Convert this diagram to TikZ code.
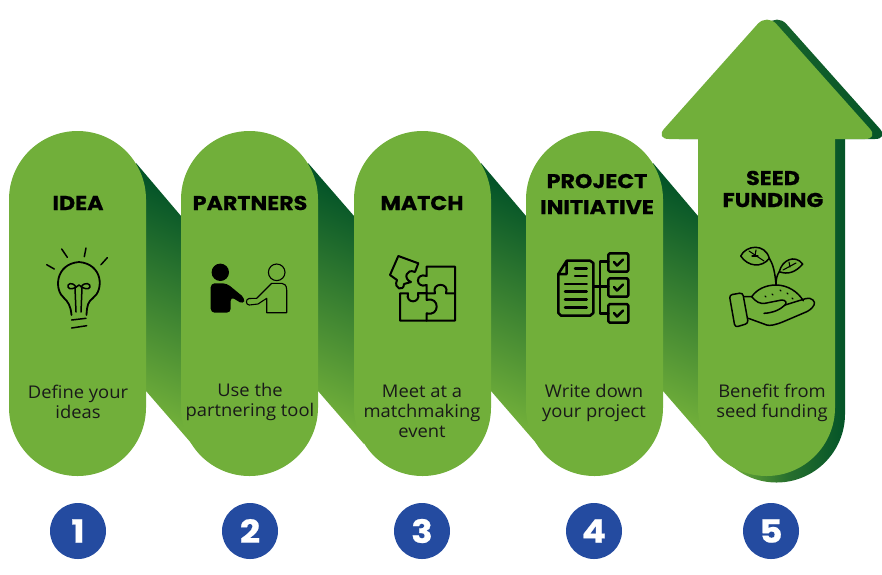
\documentclass[tikz,border=0pt]{standalone}
\usepackage{fontspec}
\setmainfont[FakeStretch=1.05]{Open Sans}
\newfontfamily\headfont[BoldFeatures={FakeStretch=1.11,FakeBold=0.6}]{Poppins}
\definecolor{pillgreen}{RGB}{113,175,58}
\definecolor{deepgreen}{RGB}{4,84,40}
\definecolor{midgreen}{RGB}{40,112,46}
\definecolor{stepblue}{RGB}{36,75,160}
\tikzset{
  pillbody/.style={fill=pillgreen,rounded corners=68.5},
  foldband/.style={top color=deepgreen,middle color=midgreen,bottom color=pillgreen,shading angle=-25},
  headtext/.style={font=\headfont\bfseries\fontsize{20}{22}\selectfont,text=black,align=center,inner sep=0pt},
  bodytext/.style={font=\fontsize{17.5}{20}\selectfont,text=black!90,align=center,inner sep=0pt},
  stepdot/.style={circle,fill=stepblue,minimum size=56,inner sep=0pt,text=white,font=\headfont\bfseries\fontsize{32}{32}\selectfont},
  iconline/.style={draw=black,line width=1.5,line cap=round,line join=round},
  iconthick/.style={draw=black,line width=2.5,line cap=round,line join=round}
}
\begin{document}
\begin{tikzpicture}[x=1pt,y=-1pt]
    \useasboundingbox (0,0) rectangle (882,574);

    % Fold bands behind the pills
    \shade[foldband] (136,163) -- (181,216) -- (192,444) -- (146,391) -- cycle;
    \shade[foldband] (308,163) -- (354,216) -- (364,444) -- (318,391) -- cycle;
    \shade[foldband] (481,163) -- (526,216) -- (537,444) -- (491,391) -- cycle;
    \shade[foldband] (653,163) -- (698,216) -- (709,444) -- (663,391) -- cycle;

    % Arrow shadow
    \shade[left color=midgreen,right color=deepgreen,rounded corners=14] (665,139) -- (777,13.5) -- (889,139) -- cycle;
    \shade[left color=pillgreen,right color=deepgreen,middle color=midgreen] (800,130) -- (845,130) -- (845,414) arc (0:135:68.5) -- cycle;

    % Pills
    \fill[pillbody] (9,131) rectangle (146,476);
    \fill[pillbody] (181,131) rectangle (318,476);
    \fill[pillbody] (354,131) rectangle (491,476);
    \fill[pillbody] (526,131) rectangle (663,476);

    % Arrow
    \fill[pillgreen,rounded corners=14] (655,139) -- (767,13.5) -- (879,139) -- cycle;
    \fill[pillgreen] (698,130) -- (698,407.5) arc (180:0:68.5) -- (835,130) -- cycle;

    % Titles
    \node[headtext] (ideatitle) at (78,203) {IDEA};
    \node[headtext] (partnerstitle) at (250,203) {PARTNERS};
    \node[headtext] (matchtitle) at (422,203) {MATCH};
    \node[headtext,font=\headfont\bfseries\fontsize{20}{26}\selectfont] (projecttitle) at (597,194) {PROJECT\\INITIATIVE};
    \node[headtext] (seedtitle) at (773,189) {SEED\\FUNDING};

    % Descriptions
    \node[bodytext] (ideatext) at (78,402) {Define your\\ideas};
    \node[bodytext] (partnerstext) at (250,402) {Use the\\partnering tool};
    \node[bodytext] (matchtext) at (422,411) {Meet at a\\matchmaking\\event};
    \node[bodytext] (projecttext) at (594,403) {Write down\\your project};
    \node[bodytext] (seedtext) at (772,403) {Benefit from\\seed funding};

    % Step numbers
    \node[stepdot] (stepone) at (78,531) {1};
    \node[stepdot] (steptwo) at (250,531) {2};
    \node[stepdot] (stepthree) at (422,531) {3};
    \node[stepdot] (stepfour) at (594,531) {4};
    \node[stepdot] (stepfive) at (771,531) {5};

    % Light bulb
    \draw[iconline] (61.7,249) -- (67.3,257.3);
    \draw[iconline] (86,248) -- (84.3,256.7);
    \draw[iconline] (107.3,257.7) -- (101,264.7);
    \draw[iconline] (46.7,264.7) -- (54.3,269);
    \draw[iconline,line width=1.8] (71.5,315) .. controls (70.5,305) and (68,302) .. (64,298) .. controls (54,290) and (55,264) .. (79,262) .. controls (103,264) and (104,290) .. (93,298) .. controls (88,302) and (87,305) .. (86.5,315);
    \draw[iconline] (76,287) .. controls (72,281) and (67,284) .. (68,287) .. controls (69,290) and (75,289) .. (79,285) .. controls (83,289) and (89,290) .. (90,287) .. controls (91,284) and (85,281) .. (81,287);
    \draw[iconline] (75,288) -- (76,312);
    \draw[iconline] (82,288) -- (81,312);
    \draw[iconline] (71.7,320) -- (86,318.3);
    \draw[iconline] (71.7,328) -- (86.7,325.7);

    % Handshake
    \fill (220.3,272.3) circle (8.7);
    \fill[rounded corners=4] (210.7,312.7) -- (210.7,283.3) -- (226.7,283.3) -- (245,298.3) -- (243.3,304.3) -- (230.7,296.7) -- (230.7,312.7) -- cycle;
    \draw[iconline,line width=1.1] (276.7,272.3) circle (8.3);
    \draw[iconline,line width=1.1] (286.7,312.7) -- (286.7,290) .. controls (286.7,285) and (284,283.3) .. (281.7,283.3) -- (271.7,283.3) -- (256.7,298.3) -- (249,298.5) .. controls (245.5,299) and (245.5,305) .. (249.3,305) -- (258,304) -- (266.7,298.3) -- (266.7,312.7) -- cycle;

    % Puzzle
    \draw[iconline,line width=2] (426.7,266.7) -- (455,266.7) -- (455,320.7) -- (400,320.7) -- (400,293.3) -- (408,293.3) .. controls (405,304) and (421,304) .. (418,293.3) -- (435,293.3) .. controls (431,282) and (450,282) .. (446,293.3) -- (455,293.3);
    \draw[iconline,line width=2] (426.7,266.7) -- (426.7,276) .. controls (415,272) and (415,289) .. (426.7,285) -- (426.7,300) .. controls (440,296) and (440,317) .. (426.7,313.3) -- (426.7,320.7);
    \draw[iconline,line width=2] (418,293.3) -- (426.7,293.3);
    \draw[iconline,line width=2] (398.3,256) -- (418.3,263.3) -- (415,272) .. controls (406,268) and (403,279) .. (411,282) -- (404,284) .. controls (404,292) and (393,289) .. (397,280) -- (390,275) -- cycle;

    % Checklist
    \draw[iconthick] (566.7,260.7) -- (590,260.7) -- (593.3,263) -- (593.3,313) -- (590,315.7) -- (561,315.7) -- (558.3,313) -- (558.3,274) -- (566.7,260.7) -- (566.7,274) -- (558.3,274);
    \draw[iconthick] (575,268.3) -- (586.7,268.3);
    \draw[iconthick] (575,276) -- (586.7,276);
    \draw[iconthick] (565,284) -- (586.7,284);
    \draw[iconthick] (565,291.7) -- (586.7,291.7);
    \draw[iconthick] (565,299.3) -- (586.7,299.3);
    \draw[iconthick] (565,307.3) -- (586.7,307.3);
    \draw[iconthick] (593.3,286.7) -- (608.3,286.7);
    \draw[iconthick] (608.3,261.7) -- (600,261.7) -- (600,313.3) -- (608.3,313.3);
    \draw[iconthick,rounded corners=1.5] (608.3,253.3) rectangle (628.3,271.7);
    \draw[iconthick,rounded corners=1.5] (608.3,278.3) rectangle (628.3,296.7);
    \draw[iconthick,rounded corners=1.5] (608.3,304) rectangle (628.3,322.7);
    \draw[iconthick] (614,262) -- (617,265.5) -- (623,259.5);
    \draw[iconthick] (614,287) -- (617,290.5) -- (623,284.5);
    \draw[iconthick] (614,313) -- (617,316.5) -- (623,310.5);

    % Seedling in hand
    \draw[iconline] (740.7,256) .. controls (746,245) and (765,243) .. (769.3,258.3) .. controls (762,268) and (748,267) .. (740.7,256) -- cycle;
    \draw[iconline,line width=1.1] (749,251) -- (764,261);
    \draw[iconline,line width=1.1] (756,250) -- (755,256);
    \draw[iconline,line width=1.1] (752,256) -- (758,256);
    \draw[iconline] (779.3,271.7) .. controls (782,260) and (795,254) .. (802.7,264) .. controls (796,272) and (788,275) .. (779.3,271.7) -- cycle;
    \draw[iconline,line width=1.1] (783,270) -- (796,263);
    \draw[iconline,line width=1.1] (789,262) -- (790,267);
    \draw[iconline] (776,285) .. controls (775,272) and (773,264) .. (769.3,258.3);
    \draw[iconline] (776,285) .. controls (776,279) and (777,275) .. (779.3,271.7);
    \draw[iconline] (751.7,296.7) .. controls (757,289) and (766,285) .. (776,285) .. controls (788,285) and (798,292) .. (803.3,300.7);
    \draw[iconline,rounded corners=3] (729.3,295) -- (742.7,292.7) -- (748.3,323.3) -- (735,327.3) -- cycle;
    \draw[iconline] (744.3,296.7) -- (751.7,296.7) .. controls (756,302) and (760,304) .. (765,303.3) -- (781.7,300) .. controls (786,300) and (787,303) .. (785,305) .. controls (780,310) and (772,313) .. (764,313.3);
    \draw[iconline] (785,305) -- (806,298.5) .. controls (812,297) and (816,302) .. (814,305) .. controls (812,309) and (808,311) .. (806.7,311.7) -- (783.3,321.7) .. controls (775,325) and (770,326) .. (766.7,325) -- (748.3,318.3);
    \draw[iconline,line width=1.1] (765,296) -- (766,297);
    \draw[iconline,line width=1.1] (772,294) -- (773,295);
    \draw[iconline,line width=1.1] (780,290) -- (781,291);
    \draw[iconline,line width=1.1] (787,293) -- (788,294);
    \draw[iconline,line width=1.1] (792,298) -- (793,299);
\end{tikzpicture}
\end{document}
